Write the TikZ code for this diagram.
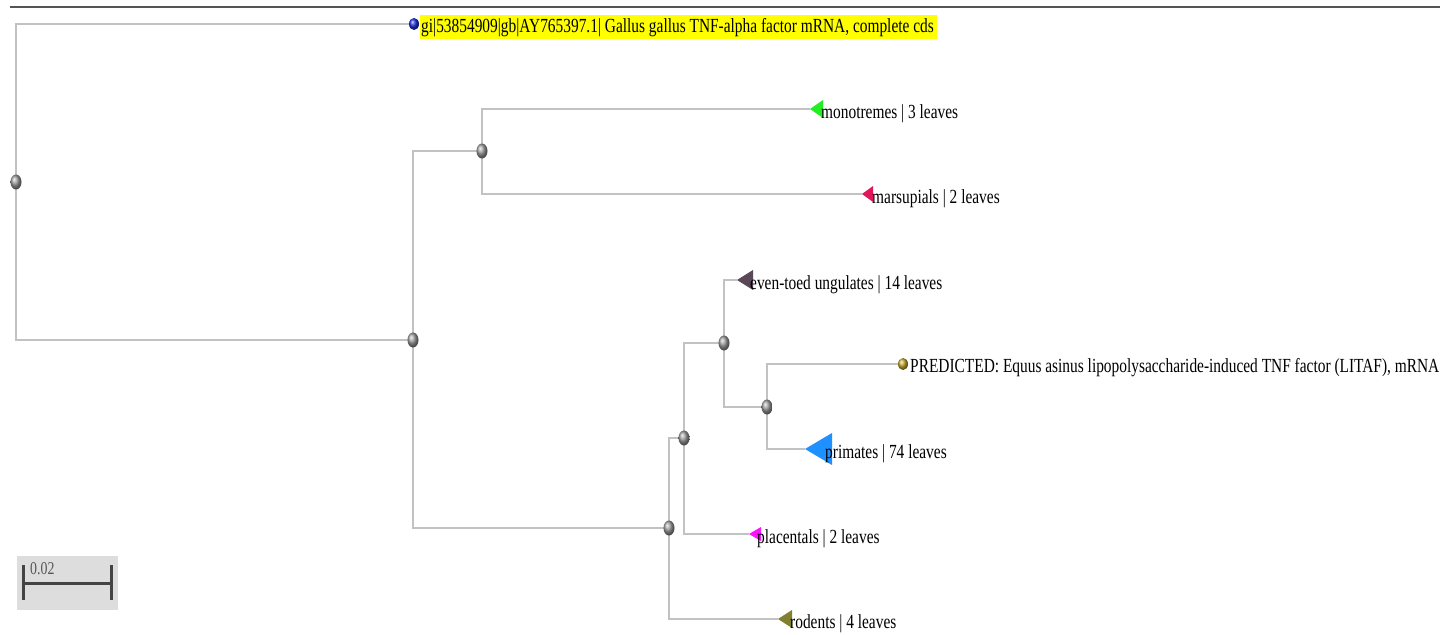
\documentclass[tikz,border=0pt]{standalone}
\usepackage{fontspec}
\setmainfont{Liberation Serif}[FakeStretch=0.77]
\usetikzlibrary{shapes.geometric,backgrounds}
\definecolor{branch}{HTML}{C2C2C2}
\definecolor{topline}{HTML}{555555}
\definecolor{barbg}{HTML}{DDDDDD}
\definecolor{barfg}{HTML}{444444}
\definecolor{cmono}{HTML}{22EE22}
\definecolor{cmars}{HTML}{E0185A}
\definecolor{ceven}{HTML}{5A4858}
\definecolor{cprim}{HTML}{1E90FF}
\definecolor{cplac}{HTML}{FF10FF}
\definecolor{crod}{HTML}{808030}
\definecolor{cgold}{HTML}{C8A830}
\definecolor{cblue}{HTML}{2030E0}
\definecolor{hilite}{HTML}{FFFF00}
\begin{document}
\begin{tikzpicture}[x=1pt,y=-1pt,
  inode/.style={ellipse,minimum width=11pt,minimum height=15pt,inner sep=0pt,shading=ball,ball color=gray!75},
  lnode/.style={ellipse,minimum width=10pt,minimum height=12pt,inner sep=0pt,shading=ball},
  edge/.style={draw=branch,line width=1.2pt},
  lab/.style={anchor=base west,inner sep=0pt,font=\fontsize{20}{24}\selectfont}]
\useasboundingbox (0,0) rectangle (1447,634);

% internal nodes
\node[inode] (root) at (16,182) {};
\node[inode] (A) at (413,340) {};
\node[inode] (B) at (482,151) {};
\node[inode] (C) at (669,528) {};
\node[inode] (D) at (684,438) {};
\node[inode] (E) at (724,343) {};
\node[inode] (F) at (767,407) {};

% leaf nodes
\node[lnode,ball color=cblue] (gi) at (414,24) {};
\node[lnode,ball color=cgold] (pred) at (903,364) {};

% clade tips
\coordinate (mono) at (810,109);
\coordinate (mars) at (862,194);
\coordinate (even) at (737,280);
\coordinate (prim) at (805,449);
\coordinate (plac) at (749,534);
\coordinate (rod) at (778,619);

\begin{scope}[on background layer]
\fill[white] (0,0) rectangle (1447,634);
\fill[hilite] (420,15) rectangle (937,39);
\path[edge] (root.center) |- (gi.center);
\path[edge] (root.center) |- (A.center);
\path[edge] (A.center) |- (B.center);
\path[edge] (A.center) |- (C.center);
\path[edge] (B.center) |- (mono);
\path[edge] (B.center) |- (mars);
\path[edge] (C.center) |- (D.center);
\path[edge] (C.center) |- (rod);
\path[edge] (D.center) |- (E.center);
\path[edge] (D.center) |- (plac);
\path[edge] (E.center) |- (even);
\path[edge] (E.center) |- (F.center);
\path[edge] (F.center) |- (pred.center);
\path[edge] (F.center) |- (prim);
\end{scope}

\draw[topline,line width=1.5pt] (10,7) -- (1440,7);

% triangles
\fill[cmono] (mono) -- ++(13,-9) -- ++(0,18) -- cycle;
\fill[cmars] (mars) -- ++(11,-8) -- ++(0,16) -- cycle;
\fill[ceven] (even) -- ++(16,-10) -- ++(0,20) -- cycle;
\fill[cprim] (prim) -- ++(27,-16) -- ++(0,32) -- cycle;
\fill[cplac] (plac) -- ++(12,-7) -- ++(0,14) -- cycle;
\fill[crod] (rod) -- ++(14,-9) -- ++(0,18) -- cycle;

% labels
\node[lab] (gilab) at (421,33) {gi|53854909|gb|AY765397.1| Gallus gallus TNF-alpha factor mRNA, complete cds};
\node[lab] (monolab) at (821,118) {monotremes | 3 leaves};
\node[lab] (marslab) at (872,203) {marsupials | 2 leaves};
\node[lab] (evenlab) at (750,289) {even-toed ungulates | 14 leaves};
\node[lab] (predlab) at (910,372) {PREDICTED: Equus asinus lipopolysaccharide-induced TNF factor (LITAF), mRNA};
\node[lab] (primlab) at (825,458) {primates | 74 leaves};
\node[lab] (placlab) at (757,543) {placentals | 2 leaves};
\node[lab] (rodlab) at (790,628) {rodents | 4 leaves};

% scale bar
\fill[barbg] (17,556) rectangle (118,610);
\coordinate (sbl) at (23,583);
\coordinate (sbr) at (111,583);
\draw[barfg,line width=3pt] (sbl) -- (sbr);
\draw[barfg,line width=3pt] ([yshift=-17]sbl) -- ([yshift=18]sbl);
\draw[barfg,line width=3pt] ([yshift=-17]sbr) -- ([yshift=18]sbr);
\node[anchor=base west,inner sep=0pt,text=topline,font=\fontsize{18}{20}\selectfont] (sblab) at (30,574) {0.02};
\end{tikzpicture}
\end{document}
